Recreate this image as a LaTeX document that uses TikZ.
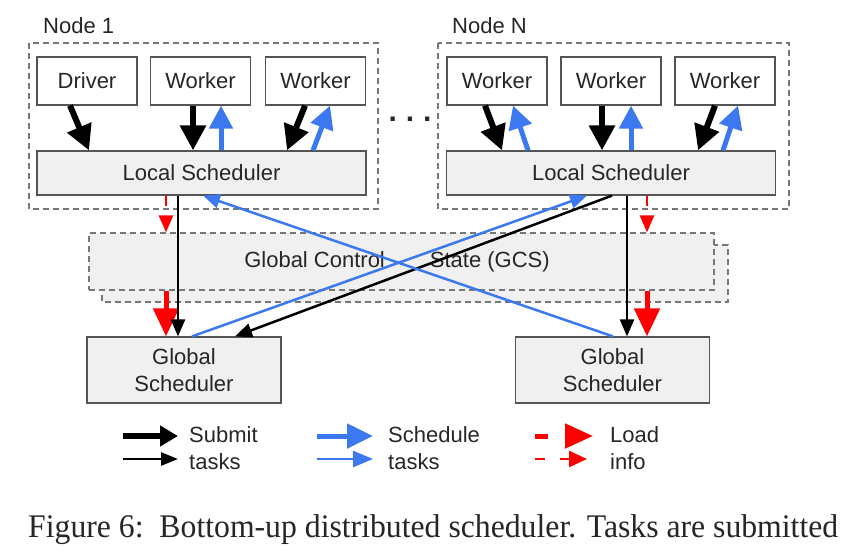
\documentclass[tikz,border=0pt]{standalone}
\usepackage{fontspec}
\setmainfont{Liberation Sans}
\newfontfamily\capfont{Liberation Serif}
\usepackage{graphicx}
\usepackage{tikz}
\usepackage{xcolor}
\usetikzlibrary{arrows.meta}
\definecolor{schedblue}{RGB}{60,120,240}
\definecolor{boxgray}{RGB}{240,240,240}
\definecolor{edgegray}{RGB}{85,85,85}

\begin{document}
\begin{tikzpicture}[x=1pt,y=-1pt,
    every node/.style={font=\fontsize{22}{27}\selectfont, text=black!85, inner sep=0pt},
    box/.style={draw=edgegray, line width=1.2pt, align=center},
    procbox/.style={box, minimum width=100pt, minimum height=48pt},
    lsbox/.style={box, fill=boxgray, minimum width=329pt, minimum height=44pt},
    gsbox/.style={box, fill=boxgray, minimum width=194pt, minimum height=66pt},
    group/.style={draw=edgegray!80, line width=1.2pt, dash pattern=on 6pt off 4pt},
    submit/.style={line width=6pt, -{Triangle[length=25pt,width=25pt]}},
    submitthin/.style={line width=2.5pt, -{Triangle[length=17pt,width=14pt]}},
    sched/.style={schedblue, line width=5pt, -{Triangle[length=23pt,width=23pt]}},
    schedthin/.style={schedblue, line width=2.5pt, -{Triangle[length=17pt,width=14pt]}},
    load/.style={red, line width=5pt, -{Triangle[length=28pt,width=25pt]}},
    loadthin/.style={red, line width=2.5pt, dash pattern=on 10pt off 15pt, -{Triangle[length=17pt,width=14pt]}}]
    \useasboundingbox (0,0) rectangle (861,555);

    % Node 1
    \draw[group] (29,43) rectangle (378,209);
    \node[anchor=base west] (lbl1) at (43,33) {Node 1};
    \node[procbox] (drv) at (87,81) {Driver};
    \node[procbox] (w11) at (200.5,81) {Worker};
    \node[procbox] (w12) at (315.5,81) {Worker};
    \node[lsbox] (ls1) at (201.5,173) {Local Scheduler};

    \node[anchor=base, font=\fontsize{30}{32}\selectfont\bfseries] (dots) at (410,121)
       {.\hspace{9pt}.\hspace{9pt}.};

    % Node N
    \draw[group] (438,43) rectangle (789,209);
    \node[anchor=base west] (lbl2) at (452,33) {Node N};
    \node[procbox] (w21) at (497,81) {Worker};
    \node[procbox] (w22) at (611,81) {Worker};
    \node[procbox] (w23) at (725,81) {Worker};
    \node[lsbox] (ls2) at (611,173) {Local Scheduler};

    % GCS, two shards
    \filldraw[group, fill=boxgray] (102,245) rectangle (728,302);
    \node[box, group, fill=boxgray, minimum width=625pt, minimum height=57pt] (gcs) at (401.5,261.5)
       {\hspace{-9pt}Global Control\hspace{45pt}State (GCS)};

    \node[gsbox] (gs1) at (184,370) {Global\\Scheduler};
    \node[gsbox] (gs2) at (612.5,370) {Global\\Scheduler};

    % workers <-> local schedulers
    \draw[submit] ([xshift=-17pt]drv.south) -- ([xshift=-112.5pt]ls1.north);
    \draw[submit] ([xshift=-7.5pt]w11.south) -- ([xshift=-8.5pt]ls1.north);
    \draw[sched] ([xshift=19.5pt]ls1.north) -- ([xshift=20.5pt]w11.south);
    \draw[submit] ([xshift=-10.5pt]w12.south) -- ([xshift=85.5pt]ls1.north);
    \draw[sched] ([xshift=111.5pt]ls1.north) -- ([xshift=14.5pt]w12.south);
    \draw[submit] ([xshift=-12pt]w21.south) -- ([xshift=-109pt]ls2.north);
    \draw[sched] ([xshift=-83pt]ls2.north) -- ([xshift=16pt]w21.south);
    \draw[submit] ([xshift=-9pt]w22.south) -- ([xshift=-9pt]ls2.north);
    \draw[sched] ([xshift=20pt]ls2.north) -- ([xshift=20pt]w22.south);
    \draw[submit] ([xshift=-10pt]w23.south) -- ([xshift=87pt]ls2.north);
    \draw[sched] ([xshift=112pt]ls2.north) -- ([xshift=13pt]w23.south);

    % local schedulers <-> gcs <-> global schedulers
    \draw[loadthin] ([xshift=-35.5pt]ls1.south) -- ([xshift=-235.5pt]gcs.north);
    \draw[load] ([xshift=-235.5pt]gcs.south) -- ([xshift=-18pt]gs1.north);
    \draw[submitthin] ([xshift=-23.5pt]ls1.south) -- ([xshift=-6pt]gs1.north);
    \draw[loadthin] ([xshift=36pt]ls2.south) -- ([xshift=245.5pt]gcs.north);
    \draw[load] ([xshift=245.5pt]gcs.south) -- ([xshift=34.5pt]gs2.north);
    \draw[submitthin] ([xshift=16pt]ls2.south) -- ([xshift=14.5pt]gs2.north);
    \draw[submitthin] ([xshift=1pt]ls2.south) -- ([xshift=51pt]gs1.north);
    \draw[schedthin] ([xshift=8pt]gs1.north) -- ([xshift=-24pt]ls2.south);
    \draw[schedthin] ([xshift=0.5pt]gs2.north) -- ([xshift=1.5pt]ls1.south);

    % legend
    \coordinate (ksub1) at (123,436);
    \coordinate (ksub2) at (123,459);
    \draw[submit, -{Triangle[length=18pt,width=20pt]}] (ksub1) -- +(55,0);
    \draw[submitthin, -{Triangle[length=17pt,width=13pt]}] (ksub2) -- +(55,0);
    \node[anchor=west, align=left] (lsub) at (189,448) {Submit\\tasks};
    \coordinate (ksch1) at (317,436);
    \coordinate (ksch2) at (317,459);
    \draw[sched, -{Triangle[length=26pt,width=24pt]}] (ksch1) -- +(56,0);
    \draw[schedthin, -{Triangle[length=20pt,width=16pt]}] (ksch2) -- +(56,0);
    \node[anchor=west, align=left] (lsch) at (388,448) {Schedule\\tasks};
    \coordinate (kld1) at (535,436);
    \coordinate (kld2) at (535,459);
    \draw[load, dash pattern=on 13pt off 17pt, -{Triangle[length=28pt,width=24pt]}] (kld1) -- +(58,0);
    \draw[loadthin, -{Triangle[length=18pt,width=16pt]}] (kld2) -- +(52,0);
    \node[anchor=west, align=left] (lld) at (610,448) {Load\\info};

    \node[anchor=base west, font=\capfont\fontsize{33}{36}\selectfont] (cap) at (28,537)
       {\resizebox{810pt}{\height}{Figure 6:\ \ Bottom-up distributed scheduler. Tasks are submitted}};
\end{tikzpicture}
\end{document}
